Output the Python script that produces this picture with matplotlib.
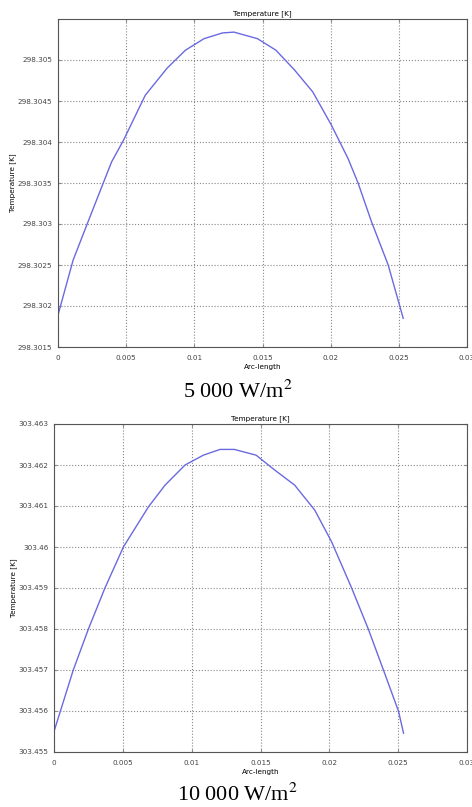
import numpy as np
import matplotlib
matplotlib.use('Agg')
import matplotlib.pyplot as plt

plt.rcParams['mathtext.fontset'] = 'stix'

# data
arc_top = [0.0, 0.00111, 0.00214, 0.00332, 0.00394, 0.0048, 0.0064, 0.0080,
           0.00935, 0.01071, 0.01206, 0.01291, 0.01463, 0.01598, 0.01734,
           0.01869, 0.02004, 0.02127, 0.02201, 0.02299, 0.02422, 0.02532]
temp_top = [298.30189, 298.30256, 298.30300, 298.30350, 298.30376, 298.30402,
            298.30457, 298.30490, 298.30512, 298.30526, 298.30533, 298.30534,
            298.30526, 298.30512, 298.30488, 298.30461, 298.30421, 298.30380,
            298.30350, 298.30303, 298.30250, 298.30185]

arc_bot = [0.0, 0.0014, 0.0025, 0.0037, 0.00504, 0.00686, 0.00807, 0.00952,
           0.01085, 0.01206, 0.0131, 0.01468, 0.01602, 0.01748, 0.01894,
           0.02016, 0.02162, 0.02283, 0.02393, 0.02502, 0.02539]
temp_bot = [303.45550, 303.45700, 303.45800, 303.45900, 303.46000, 303.46098,
            303.46151, 303.46200, 303.46224, 303.46238, 303.46238, 303.46224,
            303.46188, 303.46151, 303.46090, 303.46013, 303.45900, 303.45800,
            303.45700, 303.45600, 303.45546]

xticks = [0, 0.005, 0.01, 0.015, 0.02, 0.025, 0.03]
xticklabels = ['0', '0.005', '0.01', '0.015', '0.02', '0.025', '0.03']
yticks_top = [298.3015, 298.302, 298.3025, 298.303, 298.3035, 298.304, 298.3045, 298.305]
yticklabels_top = ['298.3015', '298.302', '298.3025', '298.303', '298.3035', '298.304', '298.3045', '298.305']
yticks_bot = [303.455, 303.456, 303.457, 303.458, 303.459, 303.46, 303.461, 303.462, 303.463]
yticklabels_bot = ['303.455', '303.456', '303.457', '303.458', '303.459', '303.46', '303.461', '303.462', '303.463']
captions = ['5 000 W/m$^2$', '10 000 W/m$^2$']

W, H = 472, 807
fig = plt.figure(figsize=(W / 100, H / 100), dpi=100)

def px(l, t, r, b):
    return [l / W, 1 - b / H, (r - l) / W, (b - t) / H]

def setup(ax, yt, ytl, ylim):
    ax.set_xlim(0, 0.03)
    ax.set_ylim(*ylim)
    ax.set_xticks(xticks)
    ax.set_xticklabels(xticklabels)
    ax.set_yticks(yt)
    ax.set_yticklabels(ytl)
    ax.grid(True, color='#888888', linestyle=':', linewidth=0.8)
    ax.tick_params(labelsize=5.2, labelcolor='#444444', direction='in', length=2,
                   color='#888888', top=True, right=True)
    ax.tick_params(axis='x', pad=6)
    ax.tick_params(axis='y', pad=4)
    for s in ax.spines.values():
        s.set_color('#555555')
        s.set_linewidth(0.8)
    ax.set_title('Temperature [K]', fontsize=5.2, pad=3)
    ax.set_xlabel('Arc-length', fontsize=5.2, labelpad=2)
    ax.set_ylabel('Temperature [K]', fontsize=5.2, labelpad=1)

ax1 = fig.add_axes(px(58, 19, 467, 347))
ax1.plot(arc_top, temp_top, color='#6a6ae0', linewidth=1.0)
setup(ax1, yticks_top, yticklabels_top, (298.3015, 298.3055))

ax2 = fig.add_axes(px(54, 424, 467, 752))
ax2.plot(arc_bot, temp_bot, color='#6a6ae0', linewidth=1.0)
setup(ax2, yticks_bot, yticklabels_bot, (303.455, 303.463))

fig.text(238 / W, 1 - 392 / H, captions[0], ha='center', va='center',
         fontsize=16, family='Liberation Serif')
fig.text(238 / W, 1 - 795 / H, captions[1], ha='center', va='center',
         fontsize=16, family='Liberation Serif')

fig.savefig('out.png', dpi=100)
